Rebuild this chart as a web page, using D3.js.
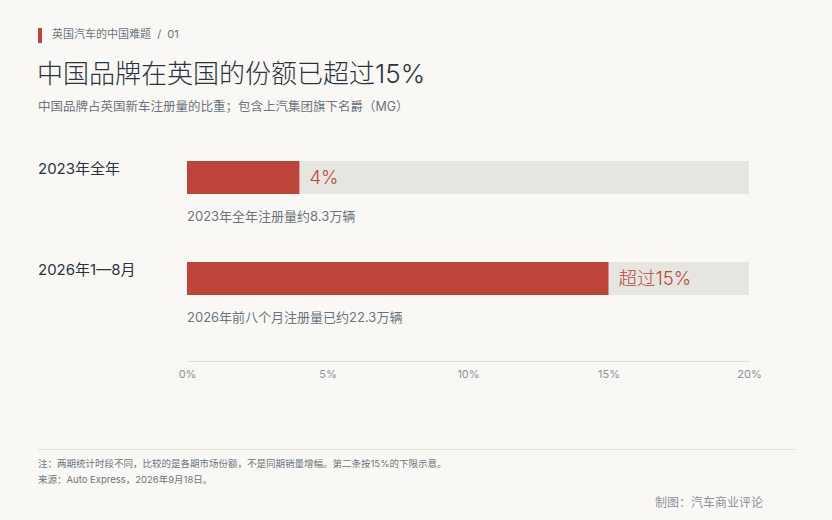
<!DOCTYPE html>
<html><head><meta charset="utf-8">
<script src="https://cdn.jsdelivr.net/npm/d3@7"></script>
<style>
html,body{margin:0;padding:0;background:#f9f8f4;}
svg{display:block;font-family:Inter,"Noto Sans CJK SC",sans-serif;}
</style></head>
<body><svg id="c" width="832" height="520"></svg>
<script>
const categories = ["2023年全年", "2026年1—8月"];
const shares = [4, 15];
const valueLabels = ["4%", "超过15%"];
const notes = ["2023年全年注册量约8.3万辆", "2026年前八个月注册量已约22.3万辆"];
const tickValues = [0, 5, 10, 15, 20];
const tickLabels = ["0%", "5%", "10%", "15%", "20%"];

const svg = d3.select("#c");
const W = 832, H = 520;
svg.append("rect").attr("width", W).attr("height", H).attr("fill", "#f9f8f4");

// header
svg.append("rect").attr("x", 38).attr("y", 28).attr("width", 4).attr("height", 15).attr("fill", "#c0443a");
svg.append("text").attr("x", 52).attr("y", 38).attr("font-size", 11).attr("fill", "#6b7580")
  .text("英国汽车的中国难题  /  01").attr("xml:space", "preserve");
svg.append("text").attr("x", 37).attr("y", 83).attr("font-size", 26).attr("font-weight", 300).attr("fill", "#2a3440")
  .text("中国品牌在英国的份额已超过15%");
svg.append("text").attr("x", 38).attr("y", 111).attr("font-size", 12.5).attr("fill", "#6b7580")
  .text("中国品牌占英国新车注册量的比重；包含上汽集团旗下名爵（MG）");

const x = d3.scaleLinear().domain([0, 20]).range([187, 749]);
const y = d3.scalePoint().domain(categories).range([161, 262]);
const bh = 33;

const g = svg.append("g");
categories.forEach((c, i) => {
  const y0 = y(c);
  g.append("rect").attr("x", x(0)).attr("y", y0).attr("width", x(20) - x(0)).attr("height", bh).attr("fill", "#e6e6e1");
  g.append("rect").attr("x", x(0)).attr("y", y0).attr("width", x(shares[i]) - x(0)).attr("height", bh).attr("fill", "#bf443a");
  g.append("text").attr("x", x(shares[i]) + 10).attr("y", y0 + bh / 2 + 6.5).attr("font-size", 18.5).attr("font-weight", 300).attr("fill", "#c0443a").text(valueLabels[i]);
  g.append("text").attr("x", 38).attr("y", y0 + 13).attr("font-size", 15).attr("fill", "#2a3440").text(c);
  g.append("text").attr("x", x(0)).attr("y", y0 + bh + 27).attr("font-size", 13).attr("fill", "#6b7580").text(notes[i]);
});

// axis
const axis = d3.axisBottom(x).tickValues(tickValues).tickFormat((d, i) => tickLabels[i]).tickSize(0).tickPadding(9);
const ax = svg.append("g").attr("transform", "translate(0,361)").call(axis);
ax.select(".domain").attr("stroke", "#dcdfde").attr("stroke-width", 1);
ax.selectAll("text").attr("font-size", 11).attr("fill", "#8a939c").attr("font-family", "Inter,\"Noto Sans CJK SC\",sans-serif");

// footer
svg.append("line").attr("x1", 38).attr("x2", 795).attr("y1", 449.5).attr("y2", 449.5).attr("stroke", "#e2e2dd").attr("stroke-width", 1);
svg.append("text").attr("x", 38).attr("y", 467).attr("font-size", 9.5).attr("fill", "#6b7580")
  .text("注：两期统计时段不同，比较的是各期市场份额，不是同期销量增幅。第二条按15%的下限示意。");
svg.append("text").attr("x", 38).attr("y", 483).attr("font-size", 9.5).attr("fill", "#6b7580")
  .text("来源：Auto Express，2026年9月18日。");
svg.append("text").attr("x", 655).attr("y", 507).attr("font-size", 12).attr("fill", "#8a939c")
  .text("制图：汽车商业评论");
</script></body></html>
